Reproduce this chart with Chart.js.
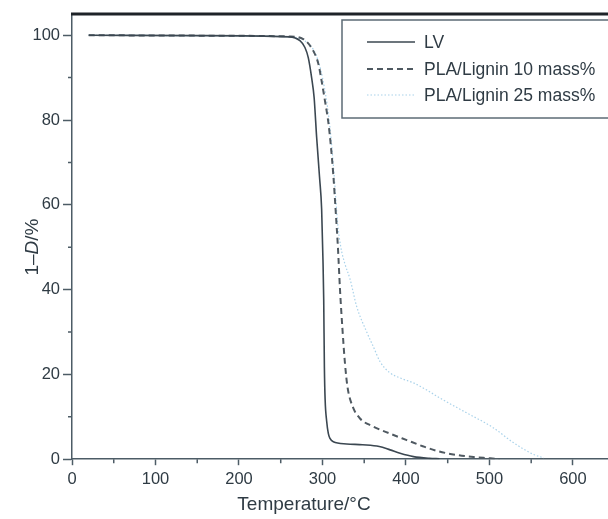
<!DOCTYPE html>
<html>
<head>
<meta charset="utf-8">
<script src="https://cdn.jsdelivr.net/npm/chart.js@4.4.1/dist/chart.umd.min.js"></script>
<style>
  body { margin: 0; background: #fff; }
</style>
</head>
<body>
<canvas id="tga" width="608" height="519"></canvas>
<script>
// LV
const lvTemp = [20, 150, 260, 273, 279, 283, 287, 290, 293, 296.5, 299, 300.6, 301.5, 302.3, 303.2, 305, 307, 309, 313, 329, 348, 368, 381, 393, 409, 428, 440];
const lvMass = [100, 99.9, 99.6, 98.7, 97.1, 94.7, 90, 85.3, 76, 66.5, 59, 47, 37.5, 21.7, 14, 9, 6.1, 4.9, 4.1, 3.6, 3.4, 3.0, 2.2, 1.4, 0.6, 0.2, 0.1];

// PLA/Lignin 10 mass%
const pla10Temp = [20, 150, 261, 277, 289, 295, 299, 303, 307, 310, 313, 316, 318.5, 321, 324, 327, 330, 336, 345, 361, 380, 401, 421, 440, 461, 481, 501, 512];
const pla10Mass = [100, 99.9, 99.7, 99.1, 96.3, 93.3, 89.2, 84.5, 79.5, 74, 67, 58, 50, 40, 30.5, 22.5, 17, 12.5, 9.6, 7.7, 6.1, 4.5, 3.0, 1.8, 1.0, 0.5, 0.2, 0];

// PLA/Lignin 25 mass%
const pla25Temp = [20, 150, 262, 280, 292, 300, 308, 314, 318, 322, 327, 333, 341, 353, 361, 369, 380, 395, 409, 425, 440, 472, 504, 528, 552, 565];
const pla25Mass = [100, 99.9, 99.6, 98.5, 95.5, 90, 80, 67, 56, 50, 46, 42.5, 36, 30, 26.5, 23, 20.5, 19, 18, 16.3, 14.5, 11, 7.5, 4, 1.2, 0.3];

const xTicks = [0, 100, 200, 300, 400, 500, 600];
const yTicks = [0, 20, 40, 60, 80, 100];
const xMinor = [50, 150, 250, 350, 450, 550];
const yMinor = [10, 30, 50, 70, 90];

const ink = '#2f3b44';
const axisCol = '#4d5c66';
const fontFam = '"Liberation Sans", Arial, Helvetica, sans-serif';

function pts(xs, ys) {
  return xs.map(function (x, i) { return { x: x, y: ys[i] }; });
}

// minor ticks, frame top line, y title, legend box
const extras = {
  id: 'extras',
  afterDraw(chart) {
    const ctx = chart.ctx;
    const a = chart.chartArea;
    const xs = chart.scales.x, ys = chart.scales.y;
    ctx.save();
    ctx.strokeStyle = axisCol;
    ctx.lineWidth = 1.5;
    ctx.beginPath();
    xMinor.forEach(function (v) {
      const px = xs.getPixelForValue(v);
      ctx.moveTo(px, a.bottom); ctx.lineTo(px, a.bottom + 4);
    });
    yMinor.forEach(function (v) {
      const py = ys.getPixelForValue(v);
      ctx.moveTo(a.left - 4, py); ctx.lineTo(a.left, py);
    });
    ctx.stroke();

    // thick top border
    ctx.strokeStyle = '#1e2328';
    ctx.lineWidth = 3;
    ctx.beginPath();
    ctx.moveTo(a.left - 1, a.top);
    ctx.lineTo(chart.width, a.top);
    ctx.stroke();

    // y axis title with italic D
    ctx.fillStyle = ink;
    ctx.textBaseline = 'middle';
    ctx.translate(33, 247);
    ctx.rotate(-Math.PI / 2);
    const parts = [['1–', 'normal'], ['D', 'italic'], ['/%', 'normal']];
    let total = 0;
    parts.forEach(function (p) {
      ctx.font = p[1] + ' 19px ' + fontFam;
      total += ctx.measureText(p[0]).width;
    });
    let cx = -total / 2;
    parts.forEach(function (p) {
      ctx.font = p[1] + ' 19px ' + fontFam;
      ctx.fillText(p[0], cx, 0);
      cx += ctx.measureText(p[0]).width;
    });
    ctx.restore();

    // legend
    ctx.save();
    ctx.strokeStyle = '#5c6b75';
    ctx.lineWidth = 1.5;
    ctx.strokeRect(342, 20, 300, 98);
    const rowY = [42, 69, 95];
    ctx.font = '17.5px ' + fontFam;
    ctx.textBaseline = 'middle';
    chart.data.datasets.forEach(function (ds, i) {
      ctx.strokeStyle = ds.borderColor;
      ctx.lineWidth = ds.borderWidth;
      ctx.setLineDash(ds.borderDash || []);
      ctx.beginPath();
      ctx.moveTo(367, rowY[i]);
      ctx.lineTo(415, rowY[i]);
      ctx.stroke();
      ctx.fillStyle = ink;
      ctx.fillText(ds.label, 424, rowY[i] + 1);
    });
    ctx.restore();
  }
};

const ctx = document.getElementById('tga');
const tga = new Chart(ctx, {
  type: 'line',
  data: {
    datasets: [{
      label: 'LV',
      data: pts(lvTemp, lvMass),
      borderColor: '#3b4751',
      borderWidth: 1.6,
      borderDash: [],
      pointRadius: 0,
      cubicInterpolationMode: 'monotone'
    }, {
      label: 'PLA/Lignin 10 mass%',
      data: pts(pla10Temp, pla10Mass),
      borderColor: '#4f5961',
      borderWidth: 2,
      borderDash: [6, 4],
      pointRadius: 0,
      cubicInterpolationMode: 'monotone'
    }, {
      label: 'PLA/Lignin 25 mass%',
      data: pts(pla25Temp, pla25Mass),
      borderColor: '#a9d2ea',
      borderWidth: 1.2,
      borderDash: [1.5, 2],
      pointRadius: 0,
      cubicInterpolationMode: 'monotone'
    }]
  },
  options: {
    responsive: false,
    animation: false,
    layout: { padding: { left: 0, right: 0, top: 14, bottom: 0 } },
    scales: {
      x: {
        type: 'linear',
        min: 0,
        max: 642,
        afterBuildTicks: function (s) { s.ticks = xTicks.map(function (v) { return { value: v }; }); },
        afterFit: function (s) { s.height = 34; },
        grid: { drawOnChartArea: false, tickLength: 6, tickColor: axisCol, tickWidth: 1.5 },
        border: { color: axisCol, width: 1.5 },
        ticks: { color: ink, padding: 4, maxRotation: 0, font: { family: fontFam, size: 16.5 } }
      },
      y: {
        min: 0,
        max: 105,
        afterBuildTicks: function (s) { s.ticks = yTicks.map(function (v) { return { value: v }; }); },
        afterFit: function (s) { s.width = 72; },
        grid: { drawOnChartArea: false, tickLength: 9, tickColor: axisCol, tickWidth: 1.5 },
        border: { color: axisCol, width: 1.5 },
        ticks: { color: ink, padding: 3, font: { family: fontFam, size: 16.5 } }
      }
    },
    plugins: {
      legend: { display: false },
      tooltip: { enabled: false },
      title: {
        display: true,
        position: 'bottom',
        text: 'Temperature/°C',
        color: ink,
        font: { family: fontFam, size: 19, weight: 'normal' },
        padding: { top: 0, bottom: 3 }
      }
    }
  },
  plugins: [extras]
});
</script>
</body>
</html>
